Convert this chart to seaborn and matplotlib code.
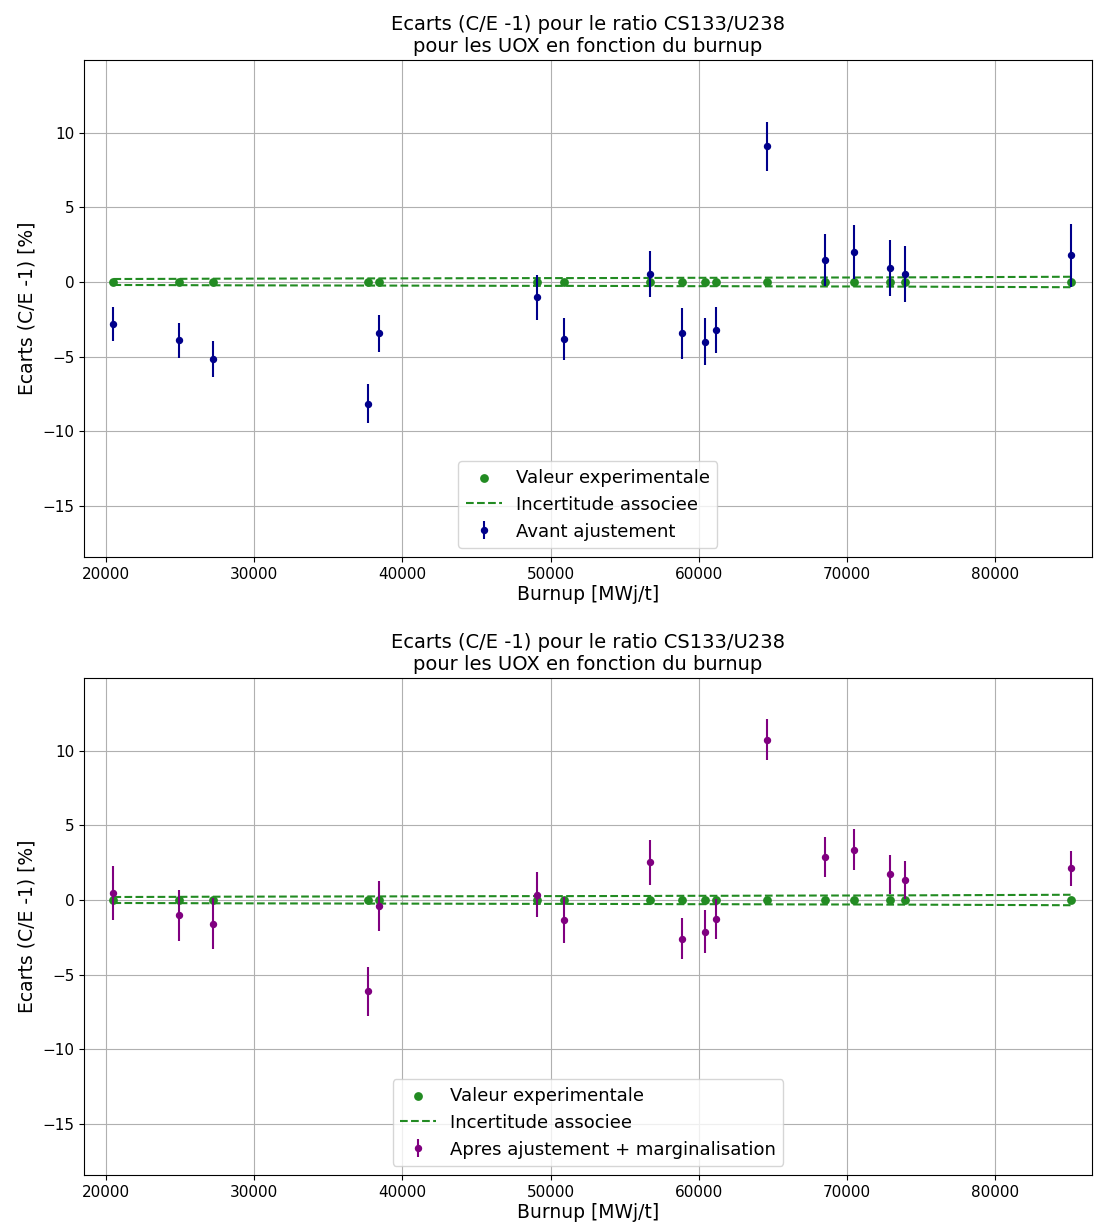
import numpy as np
import seaborn as sns
import pandas as pd
from matplotlib import pyplot as plt

burnup = [20500, 24900, 27200, 37700, 38400, 49100, 50900, 56700, 58900,
          60400, 61200, 64600, 68500, 70500, 72900, 73900, 85100]
incertitude = [0.20, 0.21, 0.22, 0.24, 0.24, 0.26, 0.26, 0.27, 0.28,
               0.28, 0.28, 0.29, 0.30, 0.30, 0.31, 0.31, 0.35]

avant = [-2.80, -3.91, -5.16, -8.13, -3.44, -1.02, -3.82, 0.53, -3.44,
         -4.00, -3.22, 9.07, 1.47, 2.02, 0.93, 0.53, 1.80]
avant_err = [1.14, 1.16, 1.20, 1.31, 1.24, 1.50, 1.39, 1.51, 1.71,
             1.56, 1.56, 1.64, 1.76, 1.82, 1.87, 1.89, 2.11]

apres = [0.45, -1.02, -1.58, -6.12, -0.40, 0.36, -1.34, 2.51, -2.58,
         -2.11, -1.27, 10.71, 2.89, 3.36, 1.71, 1.33, 2.11]
apres_err = [1.80, 1.70, 1.70, 1.64, 1.68, 1.49, 1.52, 1.48, 1.40,
             1.44, 1.33, 1.37, 1.33, 1.38, 1.30, 1.29, 1.20]

titre = 'Ecarts (C/E -1) pour le ratio CS133/U238\npour les UOX en fonction du burnup'


def draw_panel(ax, ecarts, erreurs, color, label):
    df = pd.DataFrame({'burnup': burnup, 'zero': np.zeros(len(burnup)),
                       'haut': incertitude, 'bas': -np.array(incertitude)})
    sns.scatterplot(x='burnup', y='zero', data=df, ax=ax, color='forestgreen',
                    s=40, linewidth=0, label='Valeur experimentale', zorder=3)
    sns.lineplot(x='burnup', y='haut', data=df, ax=ax, color='forestgreen',
                 linestyle='--', linewidth=1.5, label='Incertitude associee')
    sns.lineplot(x='burnup', y='bas', data=df, ax=ax, color='forestgreen',
                 linestyle='--', linewidth=1.5)
    ax.errorbar(burnup, ecarts, yerr=erreurs, fmt='o', color=color,
                markersize=4.3, elinewidth=1.5, label=label, zorder=4)

    ax.set_xlim(18515, 86545)
    ax.set_ylim(-18.4, 14.85)
    ax.set_yticks([-15, -10, -5, 0, 5, 10])
    ax.tick_params(labelsize=11)
    ax.set_title(titre, fontsize=14)
    ax.set_xlabel('Burnup [MWj/t]', fontsize=13.5, labelpad=2)
    ax.set_ylabel('Ecarts (C/E -1) [%]', fontsize=13.5)
    ax.grid(True, color='#b0b0b0', linewidth=0.8)
    ax.legend(loc='lower center', fontsize=13)


sns.set_style("whitegrid", rc={
    'axes.edgecolor': 'black', 'grid.color': '#b0b0b0',
    'xtick.bottom': True, 'ytick.left': True,
    'xtick.color': 'black', 'ytick.color': 'black',
    'axes.labelcolor': 'black', 'text.color': 'black',
})
plt.rcParams['font.family'] = ['DejaVu Sans']

fig, (ax1, ax2) = plt.subplots(2, 1, figsize=(10.97, 12.30), dpi=100)
fig.subplots_adjust(left=0.0766, right=0.9954, top=0.9512, bottom=0.0447, hspace=0.2435)

draw_panel(ax1, avant, avant_err, 'darkblue', 'Avant ajustement')
draw_panel(ax2, apres, apres_err, 'purple', 'Apres ajustement + marginalisation')

fig.savefig('out.png', dpi=100)
